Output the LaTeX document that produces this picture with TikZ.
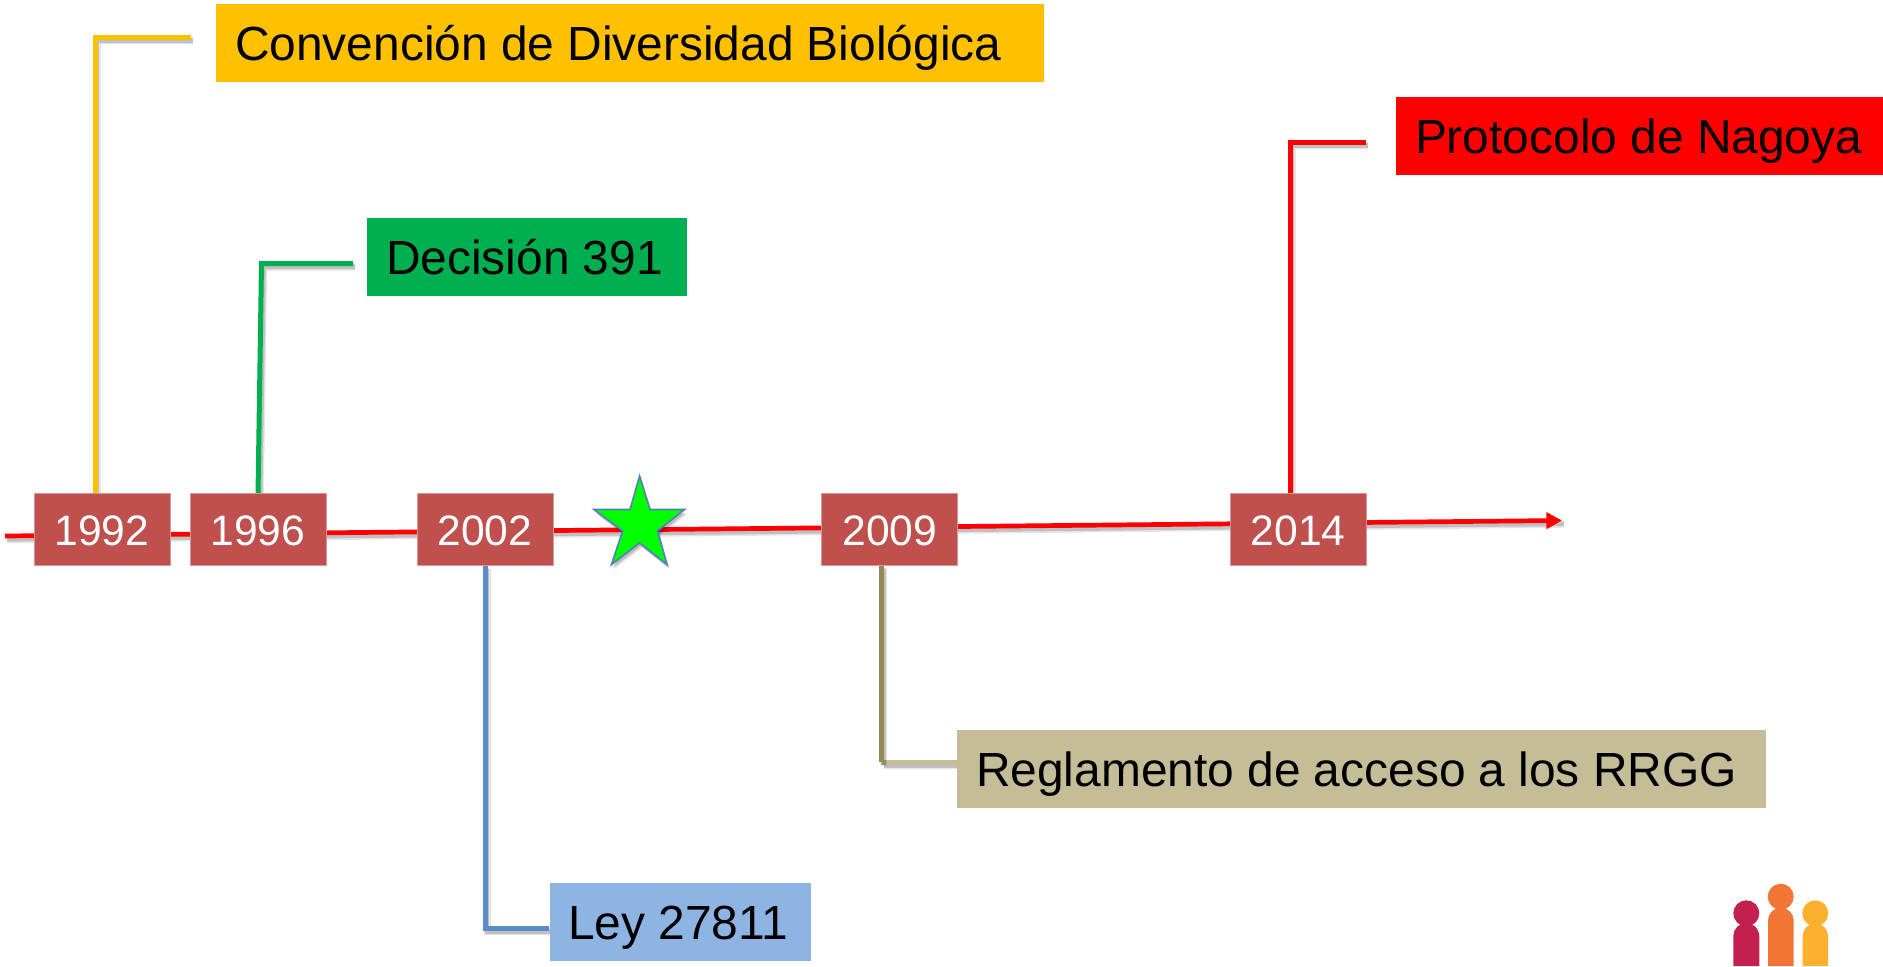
\documentclass[tikz,border=0pt]{standalone}
\usepackage{fontspec}
\setmainfont{Liberation Sans}
\usetikzlibrary{arrows.meta,backgrounds,calc}
\definecolor{yearred}{HTML}{C0504D}
\definecolor{yearedge}{HTML}{D99694}
\definecolor{cdb}{HTML}{FFC000}
\definecolor{dec}{HTML}{00B050}
\definecolor{ley}{HTML}{8EB4E3}
\definecolor{ley2}{HTML}{5B8BCB}
\definecolor{reg}{HTML}{C4BD97}
\definecolor{reg2}{HTML}{948A54}
\definecolor{starblue}{HTML}{4F81BD}
\definecolor{logoa}{HTML}{C2204F}
\definecolor{logob}{HTML}{F37535}
\definecolor{logoc}{HTML}{FBB12F}
\newcommand{\tightspaces}{\spaceskip=6.6pt\relax}
\tikzset{
  x=0.5pt,y=-0.5pt,
  yearbox/.style={anchor=north west,fill=yearred,draw=yearedge,line width=.3pt,text=white,
    minimum width=68pt,minimum height=35.7pt,inner sep=0pt,text height=16.2pt,text depth=0pt,font=\fontsize{21.3}{24}\selectfont},
  labelbox/.style={anchor=north west,inner ysep=0pt,inner xsep=9.3pt,align=left,text=black,
    minimum height=38.8pt,text height=17.5pt,text depth=0pt,font=\fontsize{23.95}{28}\selectfont},
  softshadow/.style={preaction={draw=black,opacity=.10,line width=3.6pt,-,transform canvas={xshift=1.1pt,yshift=-1.8pt}},
    preaction={draw=black,opacity=.16,line width=2.4pt,-,transform canvas={xshift=1pt,yshift=-1.6pt}}},
  conn/.style={line width=2.5pt,miter limit=10,softshadow},
  timeline/.style={red,line width=2.35pt,-{Triangle[length=7.8pt,width=8pt]},softshadow},
}
\begin{document}
\begin{tikzpicture}
\useasboundingbox (0,0) rectangle (1883,966);
% year boxes
\node[yearbox] (y1992) at (33.6,493.4) {1992};
\node[yearbox] (y1996) at (189.7,493.4) {1996};
\node[yearbox] (y2002) at (416.7,493.4) {2002};
\node[yearbox] (y2009) at (821.4,493.4) {2009};
\node[yearbox] (y2014) at (1229.7,493.4) {2014};
% label boxes
\node[labelbox,fill=cdb,text width=395pt] (cdbbox) at (216,3.6) {\tightspaces Convención de Diversidad Biológica};
\node[labelbox,fill=dec,text width=141.4pt] (decbox) at (367,218) {\tightspaces Decisión 391};
\node[labelbox,fill=red,text width=225.4pt] (nagbox) at (1396,97) {\tightspaces Protocolo de Nagoya};
\node[labelbox,fill=reg,text width=385.9pt] (regbox) at (957,730) {\tightspaces Reglamento de acceso a los RRGG};
\node[labelbox,fill=ley,text width=111.9pt] (leybox) at (549.2,882.7) {\tightspaces Ley 27811};
% free ends
\coordinate (tlstart) at (5,536);
\coordinate (tlend) at (1562,520.5);
\coordinate (a1) at (95,495);
\coordinate (a2) at (95,37);
\coordinate (a3) at (191,37);
\coordinate (b1) at (258,495);
\coordinate (b2) at (261.5,263.5);
\coordinate (b3) at (353,263.5);
\coordinate (c1) at (485,565);
\coordinate (c2) at (485,928);
\coordinate (d1) at (881.5,565);
\coordinate (d2) at (881.5,762);
\coordinate (e1) at (1290,495);
\coordinate (e2) at (1290,142);
\coordinate (e3) at (1365.5,142);
% star
\def\starpath{(639.6,476) -- (650,509.5) -- (684.5,509.5) -- (657.5,531) -- (667,564.5) -- (639.6,543) -- (611.5,564.5) -- (622.6,531) -- (594,509.5) -- (630,509.5) -- cycle}
\fill[black,opacity=.12,shift={(2.5,4.5)}] \starpath;
\fill[black,opacity=.16,shift={(1.5,3)}] \starpath;
\draw[fill=green,draw=starblue,line width=.8pt,line join=miter] \starpath;
\begin{scope}[on background layer]
  \draw[timeline] (tlstart) -- (tlend);
  \draw[conn,draw=cdb] (a1) -- (a2) -- (a3);
  \draw[conn,draw=dec] (b1) -- (b2) -- (b3);
  \draw[conn,draw=ley2] (c1) -- (c2) -- (leybox.west |- c2);
  \draw[conn,draw=reg] (d2) -- (regbox.west |- d2);
  \draw[conn,draw=reg2] (d1) -- (d2);
  \draw[conn,draw=red] (e1) -- (e2) -- (e3);
\end{scope}
% logo
\fill[logoa] (1746.3,913.3) circle[radius=13];
\fill[logoa] (1733.3,966) -- (1733.3,936) arc[start angle=180,end angle=360,radius=13] -- (1759.3,966) -- cycle;
\fill[logob] (1780.7,896.7) circle[radius=13];
\fill[logob] (1768,966) -- (1768,920.5) arc[start angle=180,end angle=360,radius=12.85] -- (1793.7,966) -- cycle;
\fill[logoc] (1815.3,913.3) circle[radius=13];
\fill[logoc] (1802.7,966) -- (1802.7,936) arc[start angle=180,end angle=360,radius=12.65] -- (1828,966) -- cycle;
\end{tikzpicture}
\end{document}
